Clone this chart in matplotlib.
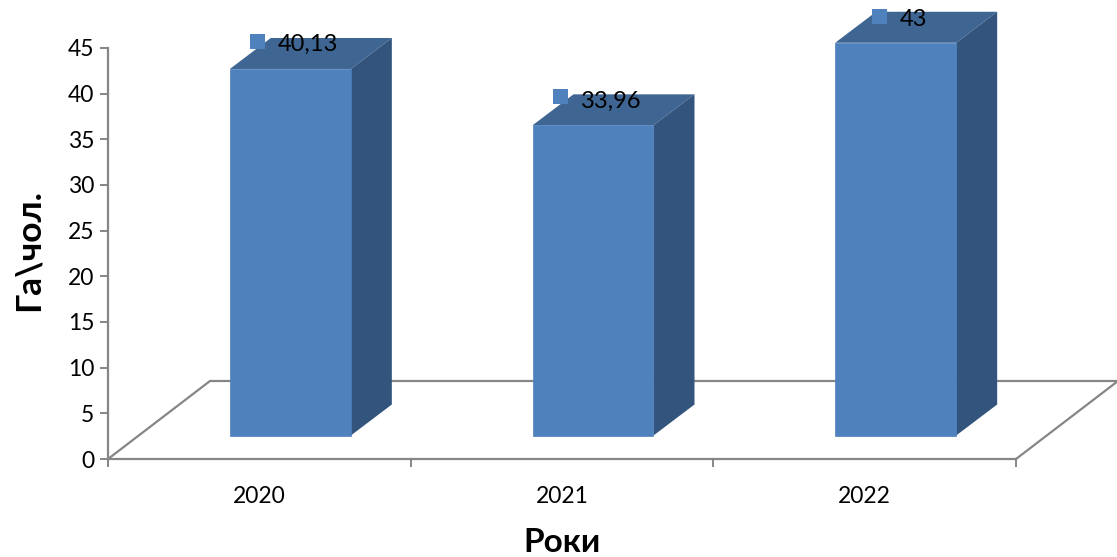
import matplotlib
matplotlib.use('Agg')
import matplotlib.pyplot as plt
from matplotlib.patches import Polygon

plt.rcParams['font.family'] = ['Lato', 'Open Sans', 'DejaVu Sans']

years = ['2020', '2021', '2022']
area = [40.13, 33.96, 43]
area_labels = ['40,13', '33,96', '43']
y_ticks = [0, 5, 10, 15, 20, 25, 30, 35, 40, 45]

W, H = 1117, 557
left, right, top, bottom = 108, 1016, 48, 459

fig = plt.figure(figsize=(W / 100, H / 100), dpi=100)
ax = fig.add_axes([left / W, 1 - bottom / H, (right - left) / W, (bottom - top) / H])
ax.set_xlim(0, 3)
ax.set_ylim(0, 45)

# pixels to data units
px_x = 3 / (right - left)
px_y = 45 / (bottom - top)

grey = '#868686'
front = '#4F81BD'
top_col = '#3F6693'
side_col = '#32547D'

# floor of the 3D chart
floor_dx = 102 * px_x
floor_dy = 78 * px_y
ax.plot([0, floor_dx, 3 + floor_dx, 3], [0, floor_dy, floor_dy, 0],
        color=grey, lw=1.6, clip_on=False, zorder=1, solid_joinstyle='miter')

# bars
pos = [i + 0.5 + 31 * px_x for i in range(len(years))]
bar_w = 121 * px_x
base = 23.5 * px_y
dx = 41 * px_x
dy = 31 * px_y
ax.bar(pos, area, width=bar_w, bottom=base, color=front, ec=front, lw=0.5, zorder=3, clip_on=False)
for p, v in zip(pos, area):
    l, r = p - bar_w / 2, p + bar_w / 2
    t = base + v
    ax.add_patch(Polygon([(l, t), (r, t), (r + dx, t + dy), (l + dx, t + dy)],
                         closed=True, fc=top_col, ec='none', zorder=2, clip_on=False))
    ax.add_patch(Polygon([(r, base), (r, t), (r + dx, t + dy), (r + dx, base + dy)],
                         closed=True, fc=side_col, ec='none', zorder=2, clip_on=False))

# data labels with the legend key square
marker_dx = [27, 27, 44]
marker_dy = [28, 29, 27]
label_dy = [3, 5, 4]
for p, v, lab, mx, my, ly in zip(pos, area, area_labels, marker_dx, marker_dy, label_dy):
    x = p - bar_w / 2 + mx * px_x
    y = base + v + my * px_y
    ax.plot([x], [y], marker='s', ms=10.8, color=front, mew=0, zorder=5, clip_on=False)
    ax.text(x + 21 * px_x, y - ly * px_y, lab, fontsize=17, color='black',
            ha='left', va='center', zorder=6, clip_on=False)

for s in ['top', 'right']:
    ax.spines[s].set_visible(False)
for s in ['left', 'bottom']:
    ax.spines[s].set_color(grey)
    ax.spines[s].set_linewidth(1.6)
    ax.spines[s].set_zorder(1)

ax.set_yticks(y_ticks)
ax.set_xticks([0, 1, 2, 3])
ax.set_xticklabels([])
ax.set_xticks([0.5, 1.5, 2.5], years, minor=True)
ax.tick_params(axis='x', which='major', length=6, width=1.4, color=grey)
ax.tick_params(axis='x', which='minor', length=0, pad=19.5, labelsize=16.5)
ax.tick_params(axis='y', length=6, width=1.4, color=grey, labelsize=16.5, pad=4)

fig.text(29 / W, 1 - 250 / H, 'Га\\чол.', rotation=90, fontsize=25.5, fontweight='bold',
         ha='center', va='center')
fig.text(562 / W, 1 - 543 / H, 'Роки', fontsize=24, fontweight='bold',
         ha='center', va='center')

fig.savefig('out.png', dpi=100)
